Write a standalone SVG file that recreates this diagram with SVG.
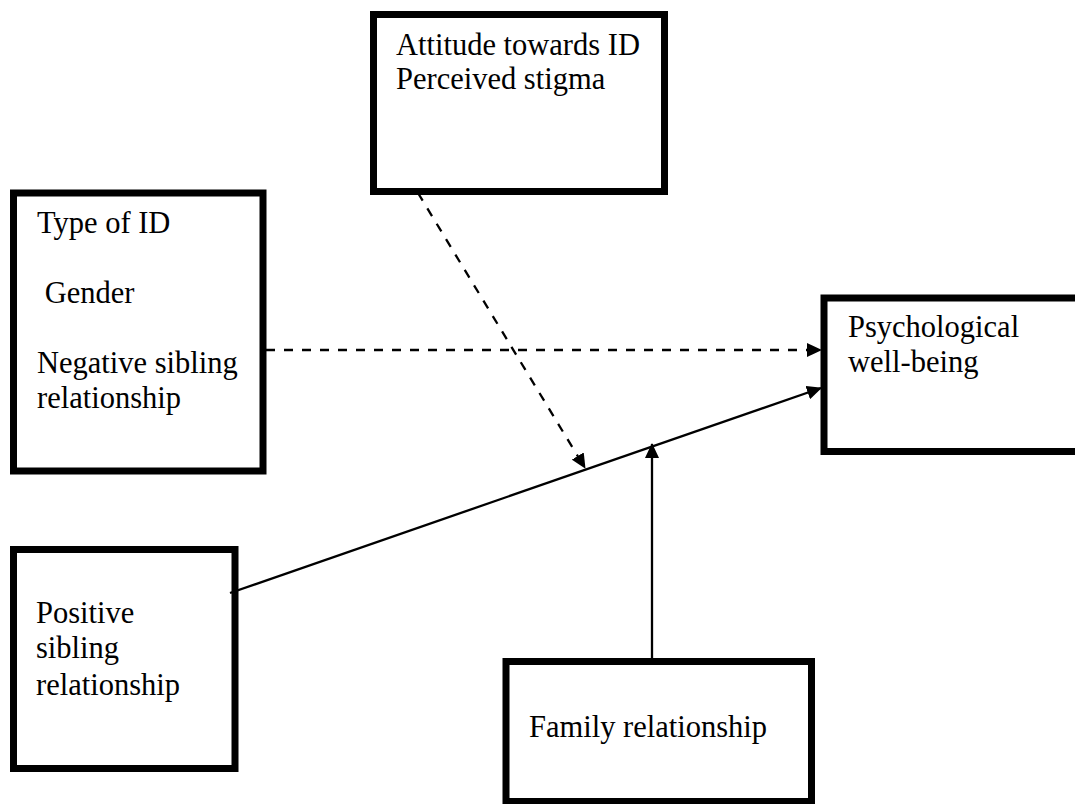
<svg xmlns="http://www.w3.org/2000/svg" width="1075" height="804" viewBox="0 0 1075 804">
<style>
.box{fill:#fff;stroke:#000;stroke-width:7}
.t{font-family:"Liberation Serif","Times New Roman",serif;font-size:30.5px;fill:#000}
.c{fill:none;stroke:#000;stroke-width:2.3}
.d{stroke-dasharray:9 9}
</style>
<defs>
<marker id="ah" markerUnits="userSpaceOnUse" markerWidth="15" markerHeight="14" refX="14" refY="7" orient="auto">
<path d="M0,0 L15,7 L0,14 z" fill="#000"/>
</marker>
</defs>
<rect width="1075" height="804" fill="#fff"/>
<g id="n-attitude">
<rect class="box" x="373.5" y="14.5" width="291" height="177"/>
<text class="t" x="396" y="55">Attitude towards ID</text>
<text class="t" x="396" y="89">Perceived stigma</text>
</g>
<g id="n-type">
<rect class="box" x="13.5" y="193" width="249.5" height="278"/>
<text class="t" x="37" y="233">Type of ID</text>
<text class="t" x="37" y="303" xml:space="preserve"> Gender</text>
<text class="t" x="37" y="373">Negative sibling</text>
<text class="t" x="37" y="408">relationship</text>
</g>
<g id="n-psych">
<rect class="box" x="824" y="298" width="300" height="153.5"/>
<text class="t" x="848" y="337">Psychological</text>
<text class="t" x="848" y="372">well-being</text>
</g>
<g id="n-positive">
<rect class="box" x="13.5" y="549.5" width="221.5" height="219"/>
<text class="t" x="36" y="623">Positive</text>
<text class="t" x="36" y="658">sibling</text>
<text class="t" x="36" y="695">relationship</text>
</g>
<g id="n-family">
<rect class="box" x="506" y="661.5" width="305.5" height="140"/>
<text class="t" x="529" y="737">Family relationship</text>
</g>
<g id="connectors">
<line class="c d" x1="266" y1="350" x2="821" y2="350" marker-end="url(#ah)"/>
<line class="c" x1="230" y1="593" x2="821" y2="388" marker-end="url(#ah)"/>
<line class="c d" x1="418" y1="193" x2="585" y2="468" marker-end="url(#ah)"/>
<line class="c" x1="652" y1="658" x2="652" y2="444" marker-end="url(#ah)"/>
</g>
</svg>
